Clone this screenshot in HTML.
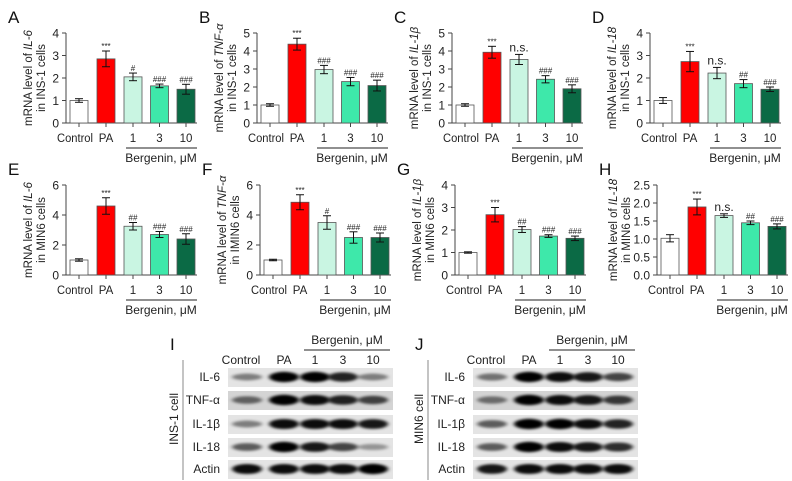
<!DOCTYPE html>
<html><head><meta charset="utf-8"><style>
body{margin:0;background:#fff}
svg{display:block;font-family:"Liberation Sans",Arial,sans-serif}
</style></head><body>
<svg id="fig" width="792" height="481" viewBox="0 0 792 481" xmlns="http://www.w3.org/2000/svg">
<defs><filter id="blur" x="-20%" y="-100%" width="140%" height="300%"><feGaussianBlur stdDeviation="2.2 1.2"/></filter></defs>
</svg>
<script>
const NS="http://www.w3.org/2000/svg";
const svg=document.getElementById('fig');
function mk(tag,attrs,parent){const e=document.createElementNS(NS,tag);for(const k in attrs)e.setAttribute(k,attrs[k]);(parent||svg).appendChild(e);return e;}

const categories=["Control","PA","1","3","10"];
const barColors=["#ffffff","#ff0000","#c9f5e2","#3ee8aa","#0b6a45"];
const panelLetters=["A","B","C","D","E","F","G","H"];
const genes=["IL-6","TNF-\u03b1","IL-1\u03b2","IL-18","IL-6","TNF-\u03b1","IL-1\u03b2","IL-18"];
const cellNames=["INS-1","INS-1","INS-1","INS-1","MIN6","IMIN6","MIN6","MIN6"];
const yMaxes=[4,5,5,4,6,6,4,2.5];
const yTickLists=[["0","1","2","3","4"],["0","1","2","3","4","5"],["0","1","2","3","4","5"],["0","1","2","3","4"],["0","2","4","6"],["0","2","4","6"],["0","1","2","3","4"],["0.0","0.5","1.0","1.5","2.0","2.5"]];
const meansA=[1.0,2.85,2.05,1.65,1.5];
const errsA=[0.08,0.35,0.17,0.08,0.22];
const meansB=[1.0,4.38,2.97,2.3,2.08];
const errsB=[0.07,0.33,0.23,0.23,0.3];
const meansC=[1.0,3.93,3.53,2.43,1.9];
const errsC=[0.07,0.33,0.28,0.2,0.22];
const meansD=[1.0,2.73,2.22,1.75,1.5];
const errsD=[0.13,0.45,0.25,0.18,0.1];
const meansE=[1.0,4.6,3.25,2.7,2.4];
const errsE=[0.08,0.55,0.25,0.2,0.35];
const meansF=[1.0,4.85,3.5,2.5,2.5];
const errsF=[0.05,0.5,0.45,0.38,0.3];
const meansG=[1.0,2.68,2.02,1.73,1.63];
const errsG=[0.03,0.32,0.13,0.06,0.1];
const meansH=[1.02,1.89,1.65,1.45,1.35];
const errsH=[0.1,0.22,0.05,0.05,0.07];
const sigA=["","***","#","###","###"];
const sigB=["","***","###","###","###"];
const sigC=["","***","n.s.","###","###"];
const sigD=["","***","n.s.","##","###"];
const sigE=["","***","##","###","###"];
const sigF=["","***","#","###","###"];
const sigG=["","***","##","###","###"];
const sigH=["","***","n.s.","##","###"];
const allMeans=[meansA,meansB,meansC,meansD,meansE,meansF,meansG,meansH];
const allErrs=[errsA,errsB,errsC,errsD,errsE,errsF,errsG,errsH];
const allSig=[sigA,sigB,sigC,sigD,sigE,sigF,sigG,sigH];

const axisXs=[66,257,452,650,66,260,455,657];
const titleOff=[[-34,-21],[-34,-21],[-34,-21],[-34,-21],[-34,-21],[-34,-21],[-34,-21],[-40,-27]];
const rowTop=[33,185],rowH=90;
const barOff=[13,40,67,93.5,120], barW=18, axisLen=131;
const labelShift=[-4,0,0,0,0];

for(let p=0;p<8;p++){
  const g=mk('g',{});
  
  
  const ax=axisXs[p], row=p<4?0:1, top=rowTop[row], y0=top+rowH;
  const ymax=yMaxes[p];
  const yS=v=>y0-v/ymax*rowH;
  const xS=i=>ax+barOff[i];
  const L=mk('text',{x:ax-58,y:top-10,'font-size':17,fill:'#111'},g);L.textContent=panelLetters[p];
  
  const yax=mk('line',{x1:ax,y1:top,x2:ax,y2:y0,stroke:'#444','stroke-width':1},g);
  
  const ticks=yTickLists[p];
  ticks.forEach((t,i)=>{const v=i*ymax/(ticks.length-1);const y=yS(v);
    mk('line',{x1:ax-4,y1:y,x2:ax,y2:y,stroke:'#444'},g);
    const tt=mk('text',{x:ax-7,y:y+4.5,'font-size':12,'text-anchor':'end',fill:'#222'},g);tt.textContent=t;
    });
  const xax=mk('line',{x1:ax,y1:y0,x2:ax+axisLen,y2:y0,stroke:'#444'},g);
  
  const cy=top+rowH/2;
  const t1=mk('text',{transform:`translate(${ax+titleOff[p][0]},${cy}) rotate(-90)`,'font-size':11.5,'text-anchor':'middle',fill:'#222'},g);
  t1.innerHTML='mRNA level of <tspan font-style="italic">'+genes[p]+'</tspan>';
  
  const t2=mk('text',{transform:`translate(${ax+titleOff[p][1]},${cy}) rotate(-90)`,'font-size':11.5,'text-anchor':'middle',fill:'#222'},g);
  t2.textContent='in '+cellNames[p]+' cells';
  
  const ms=allMeans[p],es=allErrs[p],ss=allSig[p];
  categories.forEach((c,i)=>{
    const x=xS(i);
    mk('line',{x1:x,y1:y0,x2:x,y2:y0+4,stroke:'#444'},g);
    const b=mk('rect',{x:x-barW/2,y:yS(ms[i]),width:barW,height:y0-yS(ms[i]),fill:barColors[i],stroke:'#555','stroke-width':0.8},g);
    
    
    const yt=yS(ms[i]+es[i]),yb=yS(ms[i]-es[i]);
    mk('line',{x1:x,y1:yt,x2:x,y2:yb,stroke:'#111'},g);
    mk('line',{x1:x-4,y1:yt,x2:x+4,y2:yt,stroke:'#111'},g);
    mk('line',{x1:x-4,y1:yb,x2:x+4,y2:yb,stroke:'#111'},g);
    if(ss[i]){const ns=ss[i]==='n.s.';
      const st=mk('text',{x:x,y:yt-(ns?3:2),'font-size':ns?12:8,'text-anchor':'middle',fill:'#222'},g);st.textContent=ss[i];
      }
    const cl=mk('text',{x:x+labelShift[i],y:y0+19,'font-size':11.5,'text-anchor':'middle',fill:'#222',...(i==0?{textLength:36,lengthAdjust:'spacingAndGlyphs'}:{})},g);cl.textContent=c;
    
  });
  mk('line',{x1:ax+60,y1:y0+25,x2:ax+axisLen,y2:y0+25,stroke:'#222'},g);
  const bt=mk('text',{x:ax+95,y:y0+39,'font-size':12,'text-anchor':'middle',fill:'#222'},g);bt.textContent='Bergenin, \u03bcM';
  
}

const blotProteins=["IL-6","TNF-\u03b1","IL-1\u03b2","IL-18","Actin"];
const blotI=[[0.45,1,1,0.85,0.45],[0.55,1,0.95,0.85,0.7],[0.45,0.95,0.95,0.95,0.9],[0.6,1,0.9,0.7,0.35],[0.95,0.95,0.95,0.95,1]];
const blotJ=[[0.5,1,0.95,0.9,0.7],[0.5,1,0.95,0.9,0.75],[0.6,1,1,0.95,0.85],[0.6,1,0.95,0.9,0.8],[0.9,0.95,0.95,0.95,0.95]];
const blotSets=[{ox:0,letter:"I",cell:"INS-1 cell",data:blotI},{ox:245,letter:"J",cell:"MIN6 cell",data:blotJ}];
const laneX=[247,284,315,343,373];
const rowY=[377,400,424,447,469];
blotSets.forEach(bs=>{
  const g=mk('g',{});
  
  
  const o=bs.ox;
  const L=mk('text',{x:170+o,y:350,'font-size':17,fill:'#111'},g);L.textContent=bs.letter;
  mk('line',{x1:304+o,y1:350,x2:390+o,y2:350,stroke:'#222'},g);
  const bt=mk('text',{x:347+o,y:344,'font-size':12,'text-anchor':'middle',fill:'#222'},g);bt.textContent='Bergenin, \u03bcM';
  categories.forEach((c,i)=>{const t=mk('text',{x:laneX[i]+o-(i==0?6:0),y:364,'font-size':12,'text-anchor':'middle',fill:'#222'},g);t.textContent=c;
    });
  mk('line',{x1:183+o,y1:360,x2:183+o,y2:480,stroke:'#888'},g);
  const ct=mk('text',{transform:`translate(${178+o},419) rotate(-90)`,'font-size':12,'text-anchor':'middle',fill:'#222'},g);ct.textContent=bs.cell;
  blotProteins.forEach((pr,r)=>{
    const y=rowY[r];
    const pl=mk('text',{x:220+o,y:y+4,'font-size':12,'text-anchor':'end',fill:'#222'},g);pl.textContent=pr;
    
    const strip=mk('rect',{x:228+o,y:y-9,width:165,height:19,fill:r==1?'#d4d4d4':'#e4e4e4'},g);
    
    bs.data[r].forEach((v,i)=>{
      const band=mk('ellipse',{cx:laneX[i]+o,cy:y,rx:15,ry:2+v*3.2,fill:'#000','fill-opacity':v,filter:'url(#blur)'},g);
      
    });
  });
});
</script>
</body></html>
